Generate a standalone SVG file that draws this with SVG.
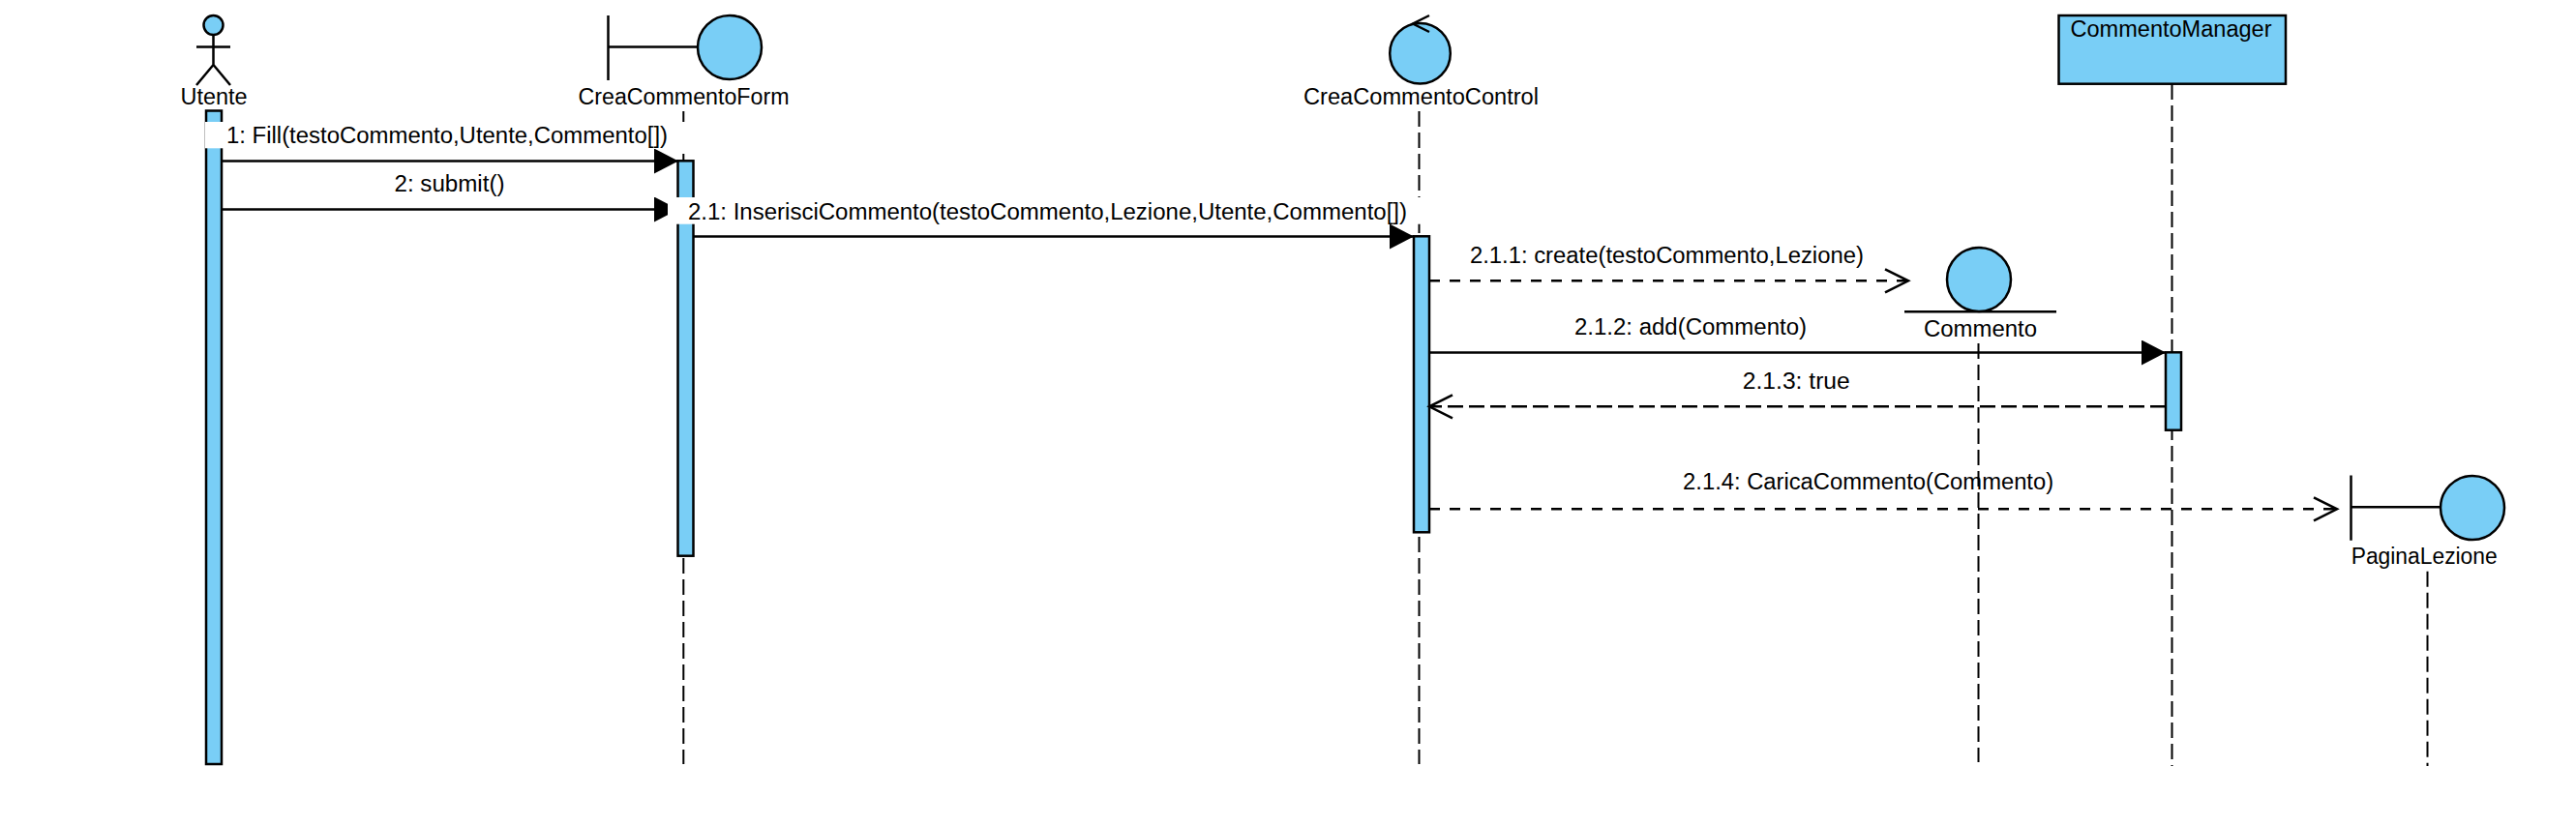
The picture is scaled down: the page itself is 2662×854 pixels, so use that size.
<svg xmlns="http://www.w3.org/2000/svg" width="2662" height="854" viewBox="0 0 2662 854">
<style>
text{font-family:"Liberation Sans",Arial,sans-serif;font-size:23px;fill:#000;text-anchor:middle}
.f{fill:#79CEF6;stroke:#000;stroke-width:2.5}
.l{fill:none;stroke:#000;stroke-width:2.5}
.ll{fill:none;stroke:#000;stroke-width:2;stroke-dasharray:16 6}
.m{fill:none;stroke:#000;stroke-width:2.5}
.r{stroke-dasharray:16 6}
.d{stroke-dasharray:11 10}
.w{fill:#fff;stroke:none}
</style>
<defs>
<marker id="solid" markerUnits="userSpaceOnUse" markerWidth="26" markerHeight="28" refX="25" refY="13" orient="auto"><path d="M0 0L25 13L0 26Z" fill="#000"/></marker>
<marker id="open" markerUnits="userSpaceOnUse" markerWidth="28" markerHeight="30" refX="25" refY="14" orient="auto"><path d="M1 2L25 14L1 26" fill="none" stroke="#000" stroke-width="2.5"/></marker>
</defs>
<rect width="2662" height="854" fill="#fff"/>
<g id="Utente">
<circle class="f" cx="220.5" cy="26" r="10"/>
<path class="l" d="M220.5 36V67M203 48.5H238M220.5 67L203 88M220.5 67L238 88"/>
<text x="221" y="107.7" textLength="69" lengthAdjust="spacingAndGlyphs">Utente</text>
<rect class="f" x="213" y="114.5" width="16" height="675.5"/>
</g>
<g id="CreaCommentoForm">
<path class="l" d="M628.5 16V83M628.5 48.5H721"/>
<circle class="f" cx="754" cy="49" r="33"/>
<text x="706.5" y="107.7" textLength="218" lengthAdjust="spacingAndGlyphs">CreaCommentoForm</text>
<path class="ll" d="M706.3 115V790"/>
<rect class="f" x="700.5" y="166.3" width="16" height="408.4"/>
</g>
<g id="CreaCommentoControl">
<circle class="f" cx="1467.5" cy="55.3" r="31.3"/>
<path class="l" d="M1477 16L1460 24.5L1477 33"/>
<text x="1468.5" y="107.7" textLength="243" lengthAdjust="spacingAndGlyphs">CreaCommentoControl</text>
<path class="ll" d="M1466.5 115V790"/>
<rect class="f" x="1461" y="244.3" width="16" height="306"/>
</g>
<g id="Commento">
<circle class="f" cx="2045" cy="289" r="33"/>
<path class="l" d="M1968 322.3H2125"/>
<text x="2046.5" y="347.7" textLength="117" lengthAdjust="spacingAndGlyphs">Commento</text>
<path class="ll" d="M2044.5 355V788"/>
</g>
<g id="CommentoManager">
<rect class="f" x="2127.5" y="16" width="234.5" height="70.7"/>
<text x="2243.5" y="37.7" textLength="208" lengthAdjust="spacingAndGlyphs">CommentoManager</text>
<path class="ll" d="M2244.5 87V792"/>
<rect class="f" x="2238" y="364.3" width="16" height="80.4"/>
</g>
<g id="PaginaLezione">
<path class="l" d="M2429.5 491.5V558.7M2429.5 524.3H2522"/>
<circle class="f" cx="2555" cy="525" r="33"/>
<text x="2505.2" y="583.3" textLength="151" lengthAdjust="spacingAndGlyphs">PaginaLezione</text>
<path class="ll" d="M2508.5 590.7V792"/>
</g>
<g id="connectors">
<path class="m" marker-end="url(#solid)" d="M229 166.5H701"/>
<rect class="w" x="212" y="126" width="500" height="27.3"/>
<text x="462" y="148.3" textLength="456" lengthAdjust="spacingAndGlyphs">1: Fill(testoCommento,Utente,Commento[])</text>
<path class="m" marker-end="url(#solid)" d="M229 216.5H701"/>
<text x="464.5" y="198.3" textLength="114" lengthAdjust="spacingAndGlyphs">2: submit()</text>
<path class="m" marker-end="url(#solid)" d="M717 244.5H1461"/>
<rect class="w" x="690" y="204" width="785" height="27.7"/>
<text x="1082.5" y="226.7" textLength="743" lengthAdjust="spacingAndGlyphs">2.1: InserisciCommento(testoCommento,Lezione,Utente,Commento[])</text>
<path class="m d" marker-end="url(#open)" d="M1477 290.3H1972"/>
<text x="1722.4" y="271.7" textLength="407" lengthAdjust="spacingAndGlyphs">2.1.1: create(testoCommento,Lezione)</text>
<path class="m" marker-end="url(#solid)" d="M1477 364.5H2238"/>
<text x="1747" y="346" textLength="240" lengthAdjust="spacingAndGlyphs">2.1.2: add(Commento)</text>
<path class="m r" marker-end="url(#open)" d="M2238 420.3H1477"/>
<text x="1856.3" y="401.7" textLength="111" lengthAdjust="spacingAndGlyphs">2.1.3: true</text>
<path class="m d" marker-end="url(#open)" d="M1477 526.3H2415"/>
<text x="1930.6" y="506" textLength="383" lengthAdjust="spacingAndGlyphs">2.1.4: CaricaCommento(Commento)</text>
</g>
</svg>
